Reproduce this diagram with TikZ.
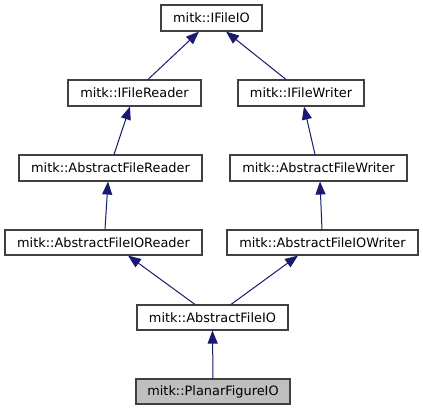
\documentclass[tikz,border=0pt]{standalone}
\usepackage{fontspec}
\setmainfont{DejaVu Sans}
\usetikzlibrary{arrows.meta}
\definecolor{edgeblue}{HTML}{191970}
\definecolor{boxborder}{HTML}{404040}
\definecolor{curfill}{HTML}{BFBFBF}
\tikzset{
  cls/.style={draw=boxborder, line width=1.1bp, fill=white, inner sep=0pt,
    minimum height=26bp, font=\fontsize{12.9bp}{15bp}\selectfont, text=black},
  cur/.style={cls, fill=curfill},
  inh/.style={draw=edgeblue, line width=1bp,
    -{Triangle[length=13bp,width=10bp,fill=edgeblue]}}
}
\begin{document}
\begin{tikzpicture}[x=1bp,y=-1bp]
\useasboundingbox (0,0) rectangle (423,411);
\node[cls, minimum width=101bp] (io) at (211.5,18) {mitk::IFileIO};
\node[cls, minimum width=133bp] (ir) at (134.5,93) {mitk::IFileReader};
\node[cls, minimum width=126bp] (iw) at (301,93) {mitk::IFileWriter};
\node[cls, minimum width=183bp] (ar) at (110.5,168) {mitk::AbstractFileReader};
\node[cls, minimum width=177bp] (aw) at (318.5,168) {mitk::AbstractFileWriter};
\node[cls, minimum width=197bp, minimum height=25bp] (aior) at (103.5,242.5) {mitk::AbstractFileIOReader};
\node[cls, minimum width=191bp, minimum height=25bp] (aiow) at (322.5,242.5) {mitk::AbstractFileIOWriter};
\node[cls, minimum width=151bp, minimum height=25bp] (aio) at (212.5,317.5) {mitk::AbstractFileIO};
\node[cur, minimum width=154bp, minimum height=25bp] (pf) at (213,391.5) {mitk::PlanarFigureIO};

\draw[inh] ([xshift=13.5bp]ir.north) -- ([xshift=-12.5bp]io.south);
\draw[inh] ([xshift=-15bp]iw.north) -- ([xshift=14.5bp]io.south);
\draw[inh] ([xshift=3.5bp]ar.north) -- ([xshift=-4.5bp]ir.south);
\draw[inh] ([xshift=-3.5bp]aw.north) -- ([xshift=3bp]iw.south);
\draw[inh] ([xshift=1.5bp]aior.north) -- ([xshift=-2.5bp]ar.south);
\draw[inh] ([xshift=-0.5bp]aiow.north) -- ([xshift=1.5bp]aw.south);
\draw[inh] ([xshift=-17.5bp]aio.north) -- ([xshift=24.5bp]aior.south);
\draw[inh] ([xshift=18.5bp]aio.north) -- ([xshift=-24.5bp]aiow.south);
\draw[inh] (pf.north) -- (aio.south);
\end{tikzpicture}
\end{document}
